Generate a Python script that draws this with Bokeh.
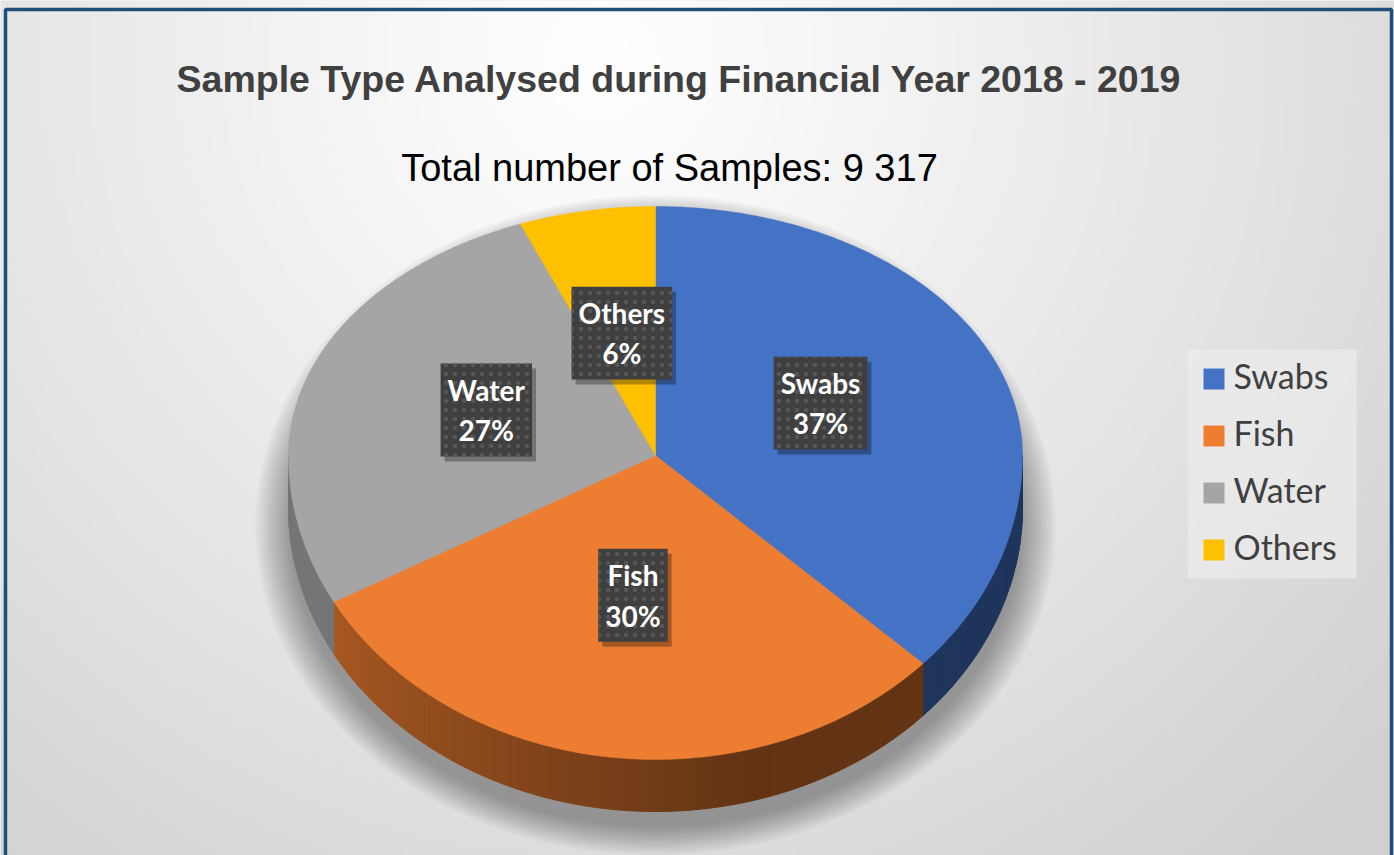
import numpy as np
from bokeh.plotting import figure
from bokeh.models import Range1d
from bokeh.core.properties import value
from bokeh.embed import file_html
from bokeh.resources import INLINE

# ---------------- data ----------------
categories = ["Swabs", "Fish", "Water", "Others"]
shares = [37, 30, 27, 6]          # percent of samples
colors = ["#4472C4", "#ED7D31", "#A5A5A5", "#FFC000"]
title_text = "Sample Type Analysed during Financial Year 2018 - 2019"
total_samples = "9 317"
subtitle_text = "Total number of Samples: " + total_samples

# ---------------- layout ----------------
W, H = 1394, 855
CX, CY = 655, 455
RA, RB_TOP, RB_BOT, DEPTH = 367, 249, 304, 52


def edge(theta_deg):
    t = np.radians(np.asarray(theta_deg, dtype=float))
    c = np.cos(t)
    x = CX + RA * np.sin(t)
    y = CY - np.where(c > 0, RB_TOP, RB_BOT) * c
    return x, y


def shade(hex_color, f):
    h = hex_color.lstrip("#")
    r, g, b = (int(h[i:i + 2], 16) for i in (0, 2, 4))
    return "#%02x%02x%02x" % (int(r * f), int(g * f), int(b * f))


p = figure(width=W, height=H, x_range=Range1d(0, W), y_range=Range1d(H, 0),
           min_border=0, output_backend="svg", toolbar_location=None,
           x_axis_type=None, y_axis_type=None,
           background_fill_color="#e8e8e8", border_fill_color="#e8e8e8")
p.xgrid.visible = False
p.ygrid.visible = False
p.outline_line_color = None

# background gradient
nx, ny = 280, 172
gx = np.linspace(0, W, nx)
gy = np.linspace(0, H, ny)
GX, GY = np.meshgrid(gx, gy)
d = np.hypot(GX - 600, (GY - 60) * 1.0)
v = (255 - 46 * np.clip(d / 1050.0, 0, 1) ** 1.1).astype(np.uint8)
img = np.empty((ny, nx), dtype=np.uint32)
view = img.view(dtype=np.uint8).reshape((ny, nx, 4))
view[..., 0] = v
view[..., 1] = v
view[..., 2] = v
view[..., 3] = 255
p.image_rgba(image=[img], x=0, y=0, dw=W, dh=H)

# frame
p.line(x=[5, 5, 1391, 1391], y=[H + 10, 9, 9, H + 10], line_color="#1F4E79", line_width=3.5)

# shadow under pie
top_y = CY - RB_TOP
bot_y = CY + RB_BOT + DEPTH
for k in range(12):
    p.ellipse(x=CX, y=(top_y + bot_y) / 2 + 16, width=2 * RA + 6 * k,
              height=(bot_y - top_y) + 5 * k, fill_color="black",
              fill_alpha=0.03, line_color=None)

# angles
cum = np.concatenate([[0], np.cumsum(shares)])
total = cum[-1]
angles = cum / total * 360.0

# side walls
sx, sy, sc = [], [], []
for i in range(len(categories)):
    lo, hi = max(angles[i], 90.0), min(angles[i + 1], 270.0)
    if hi <= lo:
        continue
    steps = list(np.arange(lo, hi, 1.0)) + [hi]
    for t0, t1 in zip(steps[:-1], steps[1:]):
        x0, y0 = edge(t0)
        x1, y1 = edge(t1)
        sx.append([float(x0), float(x1), float(x1), float(x0)])
        sy.append([float(y0), float(y1), float(y1) + DEPTH, float(y0) + DEPTH])
        tm = 0.5 * (t0 + t1)
        f = 0.42 + 0.30 * np.clip((tm - 165) / 80.0, 0, 1)
        if categories[i] == "Swabs":
            f = max(f, 0.47)
        sc.append(shade(colors[i], f))
p.patches(xs=sx, ys=sy, fill_color=sc, line_color=sc, line_width=1)

# top surface
tx, ty = [], []
for i in range(len(categories)):
    th = np.linspace(angles[i], angles[i + 1], int((angles[i + 1] - angles[i]) * 2) + 2)
    x, y = edge(th)
    tx.append([CX] + list(map(float, x)))
    ty.append([CY] + list(map(float, y)))
p.patches(xs=tx, ys=ty, fill_color=colors, line_color=colors, line_width=0.5)

# data labels
mid = (angles[:-1] + angles[1:]) / 2
lx, ly = edge(mid)
lx = CX + (lx - CX) * 0.49
ly = CY + (ly - CY) * 0.48 - 5
lab = ["%s\n%d%%" % (c, round(s / total * 100)) for c, s in zip(categories, shares)]
pad = dict(left=7, right=7, top=9, bottom=9)
p.text(x=list(lx), y=list(ly), text=lab, text_align="center", text_baseline="middle",
       text_font=value("Lato"), text_font_style="bold", text_font_size="28px",
       text_line_height=1.2, text_alpha=0, x_offset=4, y_offset=5,
       background_fill_color="black", background_fill_alpha=0.3, padding=pad)
p.text(x=list(lx), y=list(ly), text=lab, text_align="center", text_baseline="middle",
       text_font=value("Lato"), text_font_style="bold", text_font_size="28px",
       text_line_height=1.2, text_color="white",
       background_fill_color="#3f3f3f", background_hatch_pattern="dot",
       background_hatch_color="#565656", background_hatch_scale=9,
       background_hatch_weight=1.5, padding=pad)

# title / subtitle
p.text(x=[679], y=[78], text=[title_text], text_align="center", text_baseline="alphabetic",
       text_font=value("Liberation Sans"), text_font_style="bold", text_font_size="37.5px",
       text_color="#404040")
p.text(x=[669], y=[167], text=[subtitle_text], text_align="center", text_baseline="alphabetic",
       text_font=value("Liberation Sans"), text_font_size="38px", text_color="black")

# legend
p.rect(x=[1271.5], y=[463.5], width=169, height=229, fill_color="#ececec",
       fill_alpha=0.7, line_color=None)
leg_y = [378.5 + 57 * i for i in range(len(categories))]
p.rect(x=[1213.5] * len(categories), y=leg_y, width=21, height=21,
       fill_color=colors, line_color=None)
p.text(x=[1233] * len(categories), y=[yy - 3.5 for yy in leg_y], text=categories,
       text_baseline="alphabetic", text_font=value("Lato"), text_font_size="34px",
       text_color="#404040")

open("out.html", "w").write(file_html(p, INLINE))
